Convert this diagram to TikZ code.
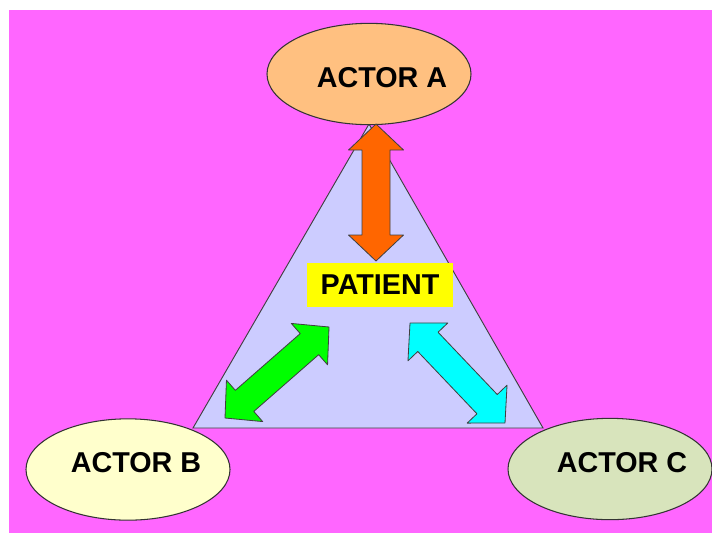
\documentclass[tikz,border=0pt]{standalone}
\usepackage{fontspec}
\setmainfont{Liberation Sans}
\usetikzlibrary{calc,shapes.geometric}

\definecolor{bgmagenta}{HTML}{FF66FF}
\definecolor{trifill}{HTML}{CCCCFF}
\definecolor{actAfill}{HTML}{FFC080}
\definecolor{actBfill}{HTML}{FFFFCC}
\definecolor{actCfill}{HTML}{D8E4BC}
\definecolor{arrorange}{HTML}{FF6600}
\definecolor{arrgreen}{HTML}{00FF00}
\definecolor{arrcyan}{HTML}{00FFFF}
\definecolor{boxyellow}{HTML}{FFFF00}

\tikzset{
  actor/.style={ellipse, draw=black!80, line width=0.9pt, minimum width=6.12cm, minimum height=3.04cm, inner sep=0pt},
  lbl/.style={font=\fontsize{24.5}{28}\selectfont\bfseries, inner sep=0pt},
  blk/.style={draw=black!75, line width=0.7pt, line join=round}
}

% double block arrow: #1 colour, #2 and #3 the two tips
\newcommand{\blockarrow}[3]{%
  \path ($(#2)!0.78cm!(#3)$) coordinate (h1) ($(#3)!0.78cm!(#2)$) coordinate (h2);
  \filldraw[blk, fill=#1] (#2) -- ($(h1)!0.825cm!90:(#3)$) -- ($(h1)!0.42cm!90:(#3)$)
    -- ($(h2)!0.42cm!-90:(#2)$) -- ($(h2)!0.825cm!-90:(#2)$) -- (#3)
    -- ($(h2)!0.825cm!90:(#2)$) -- ($(h2)!0.42cm!90:(#2)$)
    -- ($(h1)!0.42cm!-90:(#3)$) -- ($(h1)!0.825cm!-90:(#3)$) -- cycle;
}

\begin{document}
\begin{tikzpicture}[x=0.03cm, y=-0.03cm]
  \useasboundingbox[fill=white] (0,0) rectangle (712,533);
  \fill[bgmagenta] (9,10) rectangle (712,533);

  % triangle behind the actors
  \coordinate (top) at (369,124);
  \coordinate (left) at (193,428);
  \coordinate (right) at (543,428);
  \filldraw[fill=trifill, draw=black!75, line width=0.8pt] (top) -- (left) -- (right) -- cycle;

  \node[actor, fill=actAfill] (actA) at (369,74) {};
  \node[actor, fill=actBfill] (actB) at (128,469.5) {};
  \node[actor, fill=actCfill] (actC) at (610,469) {};
  \node[lbl] (actAtxt) at ($(actA)+(13,4)$) {ACTOR A};
  \node[lbl] (actBtxt) at ($(actB)+(8,-7)$) {ACTOR B};
  \node[lbl] (actCtxt) at ($(actC)+(12,-6.5)$) {ACTOR C};

  \node[lbl, fill=boxyellow, minimum width=4.38cm, minimum height=1.32cm] (patient) at (380,285) {PATIENT};

  \coordinate (aUp) at (376,124);
  \coordinate (aDown) at (376,261);
  \coordinate (bLow) at (225,418);
  \coordinate (bUp) at (329,327);
  \coordinate (cUp) at (410,323);
  \coordinate (cLow) at (505,423);

  \blockarrow{arrorange}{aUp}{aDown}
  \blockarrow{arrgreen}{bLow}{bUp}
  \blockarrow{arrcyan}{cUp}{cLow}
\end{tikzpicture}
\end{document}
